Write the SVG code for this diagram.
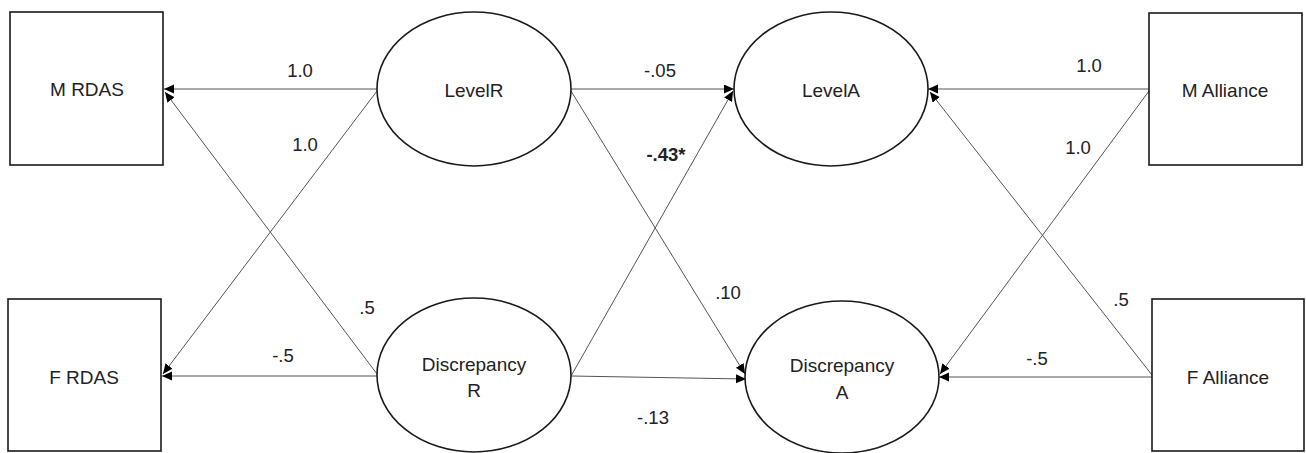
<svg xmlns="http://www.w3.org/2000/svg" width="1306" height="453" viewBox="0 0 1306 453">
<style>
.box{fill:#fff;stroke:#1a1a1a;stroke-width:1.6}
.ell{fill:#fff;stroke:#1a1a1a;stroke-width:1.6}
.lbl{font-family:"Liberation Sans",Arial,sans-serif;font-size:19px;fill:#222;text-anchor:middle;dominant-baseline:central}
.num{font-family:"Liberation Sans",Arial,sans-serif;font-size:18.5px;fill:#222;text-anchor:middle;dominant-baseline:central}
.bold{font-weight:bold}
.con{stroke:#555;stroke-width:1;fill:none;marker-end:url(#ah)}
</style>
<defs>
<marker id="ah" markerUnits="userSpaceOnUse" markerWidth="11" markerHeight="10" refX="10" refY="4.5" orient="auto">
<path d="M0,0 L10,4.5 L0,9 Z" fill="#000"/>
</marker>
</defs>
<g id="connectors">
<line class="con" x1="377" y1="89" x2="164" y2="89"/>
<line class="con" x1="377" y1="91" x2="163" y2="374"/>
<line class="con" x1="377" y1="376" x2="162" y2="376"/>
<line class="con" x1="377" y1="374" x2="165" y2="92"/>
<line class="con" x1="571" y1="89" x2="734" y2="89"/>
<line class="con" x1="571" y1="91" x2="745" y2="374"/>
<line class="con" x1="571" y1="376" x2="733" y2="91"/>
<line class="con" x1="571" y1="376" x2="746" y2="379"/>
<line class="con" x1="1149" y1="89" x2="928" y2="89"/>
<line class="con" x1="1149" y1="91" x2="940" y2="374"/>
<line class="con" x1="1152" y1="377" x2="939" y2="377"/>
<line class="con" x1="1152" y1="375" x2="930" y2="92"/>
</g>
<g id="edge-labels">
<text class="num" x="300" y="70">1.0</text>
<text class="num" x="305" y="144">1.0</text>
<text class="num" x="367" y="307">.5</text>
<text class="num" x="283" y="355">-.5</text>
<text class="num" x="660" y="70">-.05</text>
<text class="num bold" x="666" y="154">-.43*</text>
<text class="num" x="728" y="292">.10</text>
<text class="num" x="653" y="417">-.13</text>
<text class="num" x="1089" y="65">1.0</text>
<text class="num" x="1078" y="147">1.0</text>
<text class="num" x="1121" y="299">.5</text>
<text class="num" x="1037" y="358">-.5</text>
</g>
<g id="m-rdas">
<rect class="box" x="10" y="12" width="153" height="153"/>
<text class="lbl" x="87" y="89">M RDAS</text>
</g>
<g id="f-rdas">
<rect class="box" x="8" y="299" width="153" height="152"/>
<text class="lbl" x="84" y="377">F RDAS</text>
</g>
<g id="levelr">
<ellipse class="ell" cx="474" cy="89" rx="97" ry="77"/>
<text class="lbl" x="474" y="90">LevelR</text>
</g>
<g id="discrepancyr">
<ellipse class="ell" cx="474" cy="375" rx="97" ry="77"/>
<text class="lbl" x="474" y="364">Discrepancy</text>
<text class="lbl" x="474" y="390">R</text>
</g>
<g id="levela">
<ellipse class="ell" cx="831" cy="89" rx="97" ry="77"/>
<text class="lbl" x="831" y="90">LevelA</text>
</g>
<g id="discrepancya">
<ellipse class="ell" cx="842" cy="377" rx="97" ry="76"/>
<text class="lbl" x="842" y="365">Discrepancy</text>
<text class="lbl" x="842" y="392">A</text>
</g>
<g id="m-alliance">
<rect class="box" x="1149" y="13" width="153" height="152"/>
<text class="lbl" x="1225" y="90">M Alliance</text>
</g>
<g id="f-alliance">
<rect class="box" x="1152" y="299" width="152" height="152"/>
<text class="lbl" x="1228" y="377">F Alliance</text>
</g>
</svg>
